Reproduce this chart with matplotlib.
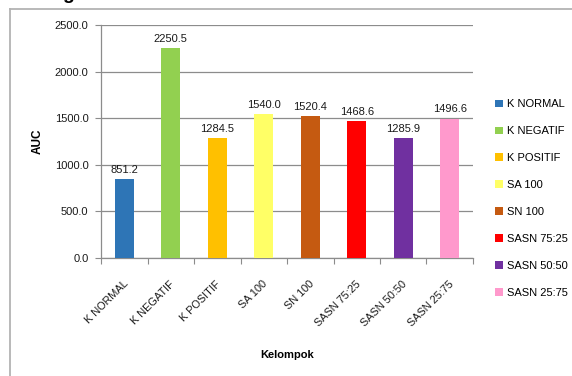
import matplotlib.pyplot as plt
from matplotlib.lines import Line2D
from matplotlib.patches import Patch

plt.rcParams['font.family'] = ['Liberation Sans', 'DejaVu Sans']

# AUC per kelompok
kelompok = ['K NORMAL', 'K NEGATIF', 'K POSITIF', 'SA 100', 'SN 100',
            'SASN 75:25', 'SASN 50:50', 'SASN 25:75']
auc = [851.2, 2250.5, 1284.5, 1540.0, 1520.4, 1468.6, 1285.9, 1496.6]
warna = ['#2E75B6', '#92D050', '#FFC000', '#FFFF66', '#C55A11',
         '#FF0000', '#7030A0', '#FF99CC']
yticks = [0, 500, 1000, 1500, 2000, 2500]

W, H = 572, 376
fig = plt.figure(figsize=(W / 100, H / 100), dpi=100)
ax = fig.add_axes([101 / W, 1 - 258 / H, (473 - 101) / W, (258 - 25) / H])

x = range(len(kelompok))
ax.bar(x, auc, width=0.41, color=warna, zorder=3)
for xi, v in zip(x, auc):
    ax.annotate(f'{v:.1f}', (xi, v), xytext=(0, 3), textcoords='offset points',
                ha='center', va='bottom', fontsize=8, color='#1a1a1a')

ax.set_xlim(-0.5, len(kelompok) - 0.5)
ax.set_ylim(0, 2500)
ax.set_yticks(yticks)
ax.set_yticklabels([f'{t:.1f}' for t in yticks], fontsize=8, color='#1a1a1a')
ax.yaxis.grid(True, color='#8c8c8c', linewidth=0.9, zorder=0)
ax.tick_params(axis='y', length=4, color='#8c8c8c', pad=5)

# category ticks sit on the boundaries between groups
ax.set_xticks([i - 0.5 for i in range(len(kelompok) + 1)])
ax.set_xticklabels([])
ax.tick_params(axis='x', length=4, color='#8c8c8c')
for xi, lab in zip(x, kelompok):
    ax.annotate(lab, (xi, 0), xytext=(-1, -15), textcoords='offset points',
                rotation=45, ha='right', va='top', fontsize=7.8,
                color='#1a1a1a', rotation_mode='anchor')

for side in ('top', 'right'):
    ax.spines[side].set_visible(False)
for side in ('left', 'bottom'):
    ax.spines[side].set_color('#8c8c8c')
    ax.spines[side].set_linewidth(0.9)

ax.set_ylabel('AUC', fontsize=8.5, fontweight='bold', labelpad=8)
fig.text(287 / W, 1 - 355 / H, 'Kelompok', fontsize=8, fontweight='bold',
         ha='center', va='center')

handles = [Patch(facecolor=c, label=k) for c, k in zip(warna, kelompok)]
fig.legend(handles=handles, loc='upper left', bbox_to_anchor=(491 / W, 1 - 95 / H),
           frameon=False, fontsize=8, handlelength=0.7, handleheight=0.7,
           handletextpad=0.35, labelspacing=1.52, borderaxespad=0)

# outer frame
fc = '#b3b3b3'
fig.add_artist(Line2D([10 / W, 1], [1 - 9 / H, 1 - 9 / H], color=fc, linewidth=1.3))
fig.add_artist(Line2D([10 / W, 10 / W], [0, 1 - 9 / H], color=fc, linewidth=1.3))
fig.text(68 / W, 1 + 1 / H, 'g', fontsize=14, fontweight='bold', ha='center',
         va='baseline')

fig.savefig('out.png', dpi=100)
